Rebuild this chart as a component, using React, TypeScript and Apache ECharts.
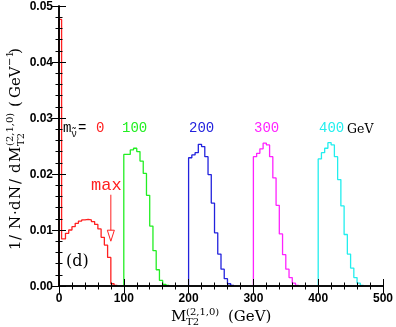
import React, { useEffect, useRef } from "react";
import * as echarts from "echarts";

// ---- data ----
const binWidth = 5;
// m_snu = 0 (red): non-uniform first bins
const redEdges = [0, 4, 10, 15, 20, 25, 30, 35, 40, 45, 50, 55, 60, 65, 70, 75, 80, 85, 90];
const redValues = [0.0476, 0.0084, 0.0094, 0.0100, 0.0106, 0.0112, 0.0116, 0.0118, 0.0119, 0.0118, 0.0115, 0.0110, 0.0102, 0.0087, 0.0073, 0.0051, 0.0004, 0.0001];
const greenStart = 100;
const greenValues = [0.0235, 0.0235, 0.0243, 0.0246, 0.0240, 0.0223, 0.0201, 0.0162, 0.0107, 0.0063, 0.0029, 0.0010, 0.0003, 0.0001];
const blueStart = 200;
const blueValues = [0.0229, 0.0234, 0.0238, 0.0253, 0.0249, 0.0231, 0.0199, 0.0148, 0.0095, 0.0057, 0.0030, 0.0013, 0.0004, 0.0001];
const magentaStart = 300;
const magentaValues = [0.0231, 0.0237, 0.0245, 0.0255, 0.0252, 0.0231, 0.0193, 0.0144, 0.0093, 0.0056, 0.0030, 0.0015, 0.0005, 0.0001];
const cyanStart = 400;
const cyanValues = [0.0227, 0.0238, 0.0246, 0.0256, 0.0252, 0.0231, 0.0190, 0.0143, 0.0092, 0.0057, 0.0032, 0.0015, 0.0005, 0.0001];
const maxArrowX = 80;
const maxArrowFrom = 0.0163;
const maxArrowTo = 0.0080;
const xTicks = [0, 100, 200, 300, 400, 500];
const yTicks = [0, 0.01, 0.02, 0.03, 0.04, 0.05];

const RED = "#ff2020";
const GREEN = "#22ee22";
const BLUE = "#2222dd";
const MAGENTA = "#ff22ff";
const CYAN = "#22eeee";

function uniformEdges(start: number, n: number) {
  const e: number[] = [];
  for (let i = 0; i <= n; i++) e.push(start + i * binWidth);
  return e;
}

function stepPoints(edges: number[], values: number[]) {
  const pts: number[][] = [[edges[0], 0]];
  for (let i = 0; i < values.length; i++) {
    pts.push([edges[i], values[i]]);
    pts.push([edges[i + 1], values[i]]);
  }
  pts.push([edges[edges.length - 1], 0]);
  return pts;
}

const SERIF = "'DejaVu Serif', serif";
const MONO = "'Liberation Mono', monospace";

function txt(x: number, y: number, text: string, font: string, fill = "#000", align = "left") {
  return {
    type: "text",
    x,
    y,
    style: { text, font, fill, align, textAlign: align, verticalAlign: "middle", textVerticalAlign: "middle" },
    z: 20,
  };
}

export default function App() {
  const ref = useRef<HTMLDivElement>(null);
  useEffect(() => {
    if (!ref.current) return;
    const chart = echarts.init(ref.current, undefined, { renderer: "svg" });
    const axisLine = { show: true, lineStyle: { color: "#000", width: 1.5 } };
    const mkX = (pos: "bottom" | "top", labels: boolean) => ({
      type: "value",
      position: pos,
      z: 10,
      min: xTicks[0],
      max: xTicks[xTicks.length - 1],
      interval: 100,
      axisLine,
      axisTick: { show: true, inside: true, length: 7, lineStyle: { color: "#000", width: 1 } },
      minorTick: { show: true, splitNumber: 5, length: 3.5, lineStyle: { color: "#000", width: 1 } },
      splitLine: { show: false },
      axisLabel: {
        show: labels,
        margin: 6,
        color: "#000",
        fontWeight: "bold",
        fontSize: 12,
        fontFamily: "'Liberation Sans', Arial, sans-serif",
      },
    });
    const mkY = (pos: "left" | "right", labels: boolean) => ({
      type: "value",
      position: pos,
      z: 10,
      min: yTicks[0],
      max: yTicks[yTicks.length - 1],
      interval: 0.01,
      axisLine,
      axisTick: { show: true, inside: true, length: 7, lineStyle: { color: "#000", width: 1 } },
      minorTick: { show: true, splitNumber: 5, length: 3.5, lineStyle: { color: "#000", width: 1 } },
      splitLine: { show: false },
      axisLabel: {
        show: labels,
        margin: 6,
        color: "#000",
        fontWeight: "bold",
        fontSize: 12,
        fontFamily: "'Liberation Sans', Arial, sans-serif",
        formatter: (v: number) => v.toFixed(2),
      },
    });
    const hist = (edges: number[], values: number[], color: string) => ({
      type: "line",
      xAxisIndex: 0,
      yAxisIndex: 0,
      data: stepPoints(edges, values),
      symbol: "none",
      lineStyle: { color, width: 1.3 },
      z: 5,
    });
    chart.setOption({
      animation: false,
      grid: { left: 59, right: 12, top: 4, bottom: 41 },
      xAxis: [mkX("bottom", true), mkX("top", false)],
      yAxis: [mkY("left", true), mkY("right", false)],
      series: [
        hist(redEdges, redValues, RED),
        hist(uniformEdges(greenStart, greenValues.length), greenValues, GREEN),
        hist(uniformEdges(blueStart, blueValues.length), blueValues, BLUE),
        hist(uniformEdges(magentaStart, magentaValues.length), magentaValues, MAGENTA),
        hist(uniformEdges(cyanStart, cyanValues.length), cyanValues, CYAN),
      ],
    });

    const p0 = chart.convertToPixel({ gridIndex: 0 }, [maxArrowX, maxArrowFrom]) as number[];
    const p1 = chart.convertToPixel({ gridIndex: 0 }, [maxArrowX, maxArrowTo]) as number[];

    const yTitleParts: [number, number, string, string][] = [
      [0, 0, "1", "15px"],
      [10, 0, "/", "15px"],
      [21, 0, "N", "15px"],
      [35, 0, "·", "15px"],
      [40, 0, "d", "15px"],
      [51, 0, "N", "15px"],
      [66, 0, "/", "15px"],
      [77, 0, "d", "15px"],
      [88, 0, "M", "15px"],
      [104, -6, "(2,1,0)", "10px"],
      [104, 5, "T2", "10px"],
      [143, 0, "(", "15px"],
      [152, 0, "GeV", "15px"],
      [184, -6, "−1", "10px"],
      [196, 0, ")", "15px"],
    ];

    chart.setOption({
      graphic: [
        {
          type: "group",
          x: 15,
          y: 250,
          rotation: Math.PI / 2,
          children: yTitleParts.map(([lx, ly, t, fs]) => txt(lx, ly, t, `${fs} ${SERIF}`)),
        },
        txt(171, 316, "M", `15px ${SERIF}`),
        txt(186, 311, "(2,1,0)", `10px ${SERIF}`),
        txt(186, 321.5, "T2", `10px ${SERIF}`),
        txt(228, 316, "(GeV)", `15px ${SERIF}`),
        // in-plot labels
        txt(63, 128, "m", `14px ${MONO}`),
        txt(71, 134, "ν̃", `10px ${MONO}`),
        txt(78, 128, "=", `14px ${MONO}`),
        txt(96, 128, "0", `14px ${MONO}`, RED),
        txt(122, 128, "100", `14px ${MONO}`, GREEN),
        txt(189, 128, "200", `14px ${MONO}`, BLUE),
        txt(254, 128, "300", `14px ${MONO}`, MAGENTA),
        txt(319, 128, "400", `14px ${MONO}`, CYAN),
        txt(347, 128, "GeV", `12.5px ${SERIF}`),
        txt(91, 185, "max", `17px ${MONO}`, RED),
        txt(66, 260, "(d)", `16px ${SERIF}`),
        {
          type: "line",
          shape: { x1: p0[0], y1: p0[1], x2: p1[0], y2: p1[1] - 10 },
          style: { stroke: RED, lineWidth: 1 },
          z: 10,
        },
        {
          type: "polygon",
          shape: { points: [[p1[0] - 3.5, p1[1] - 11], [p1[0] + 3.5, p1[1] - 11], [p1[0], p1[1]]] },
          style: { stroke: RED, fill: "#fff", lineWidth: 1 },
          z: 10,
        },
      ],
    });
    return () => chart.dispose();
  }, []);
  return <div ref={ref} style={{ position: "fixed", left: 0, top: 0, width: 396, height: 327 }} />;
}
